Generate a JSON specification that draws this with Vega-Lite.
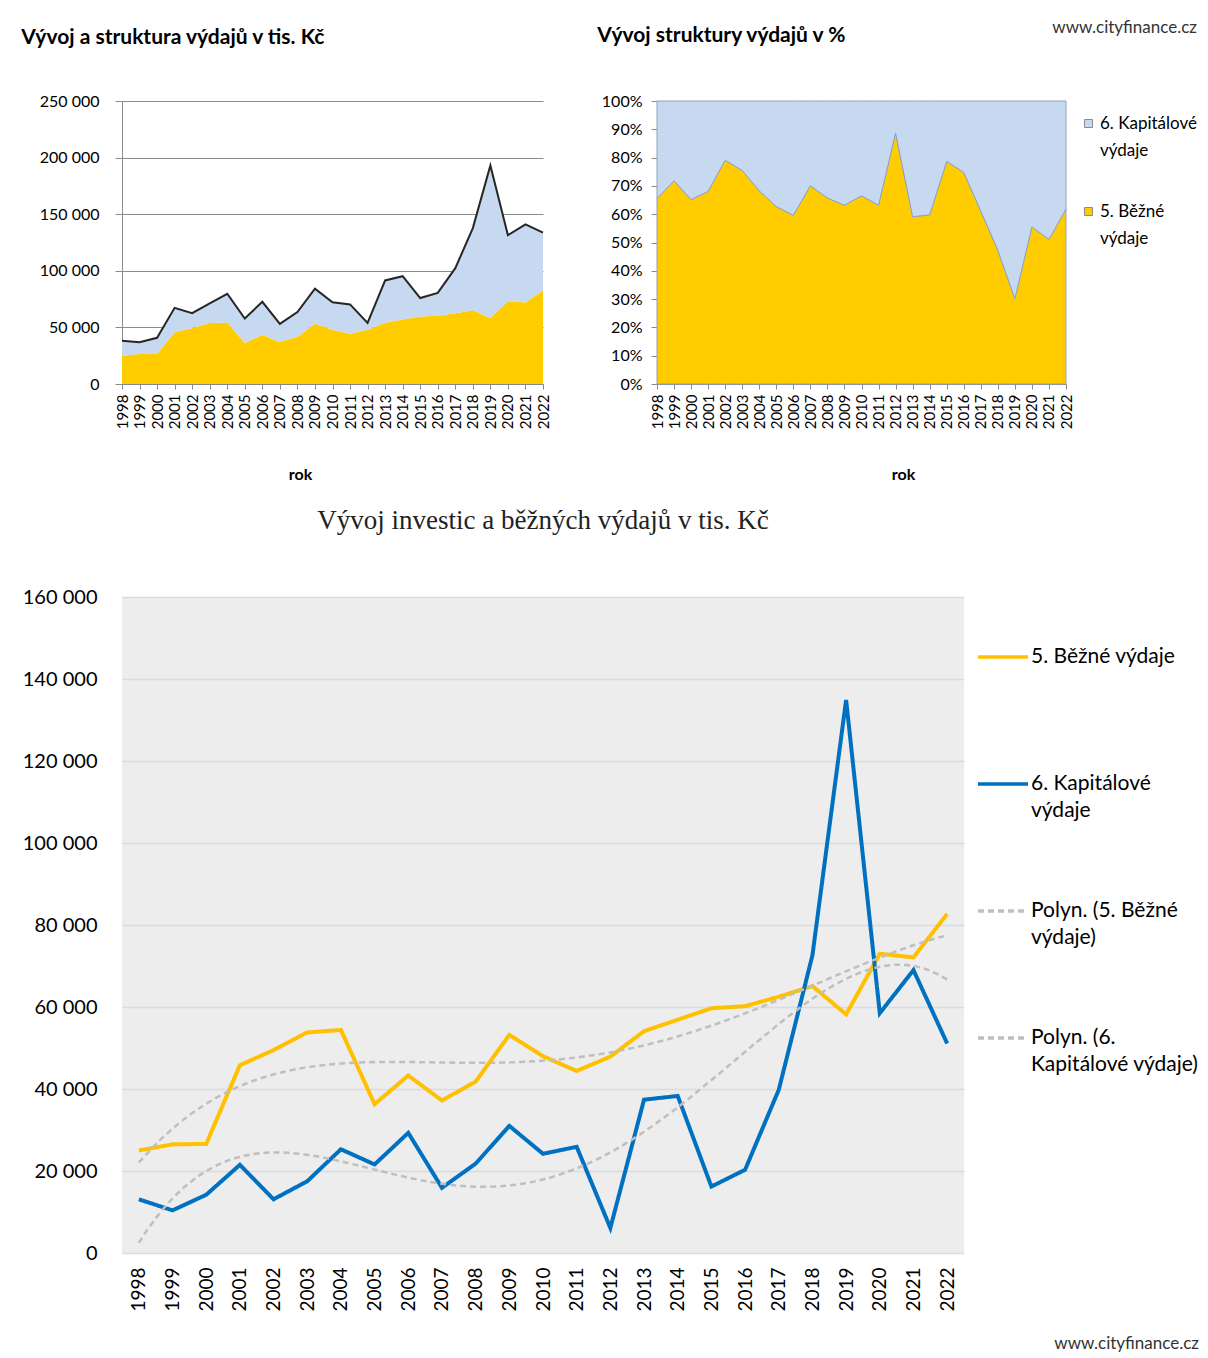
{
  "$schema": "https://vega.github.io/schema/vega-lite/v6.json",
  "padding": {"left": 21, "top": 19, "right": 4, "bottom": 0},
  "background": "white",
  "config": {
    "font": "Lato",
    "view": {"stroke": null},
    "locale": {"number": {"decimal": ",", "thousands": " ", "grouping": [3], "currency": ["", " Kč"]}},
    "axis": {"labelColor": "#000", "titleColor": "#000", "labelFont": "Lato", "titleFont": "Lato"},
    "legend": {"labelColor": "#000", "labelFont": "Lato"},
    "title": {"color": "#000", "font": "Lato"},
    "style": {"guide-label": {"lineHeight": 27}}
  },
  "datasets": {
    "d": [
      {"rok": 1998, "serie": "5. Běžné výdaje", "trend": "Polyn. (5. Běžné výdaje)", "value": 25000},
      {"rok": 1999, "serie": "5. Běžné výdaje", "trend": "Polyn. (5. Běžné výdaje)", "value": 26500},
      {"rok": 2000, "serie": "5. Běžné výdaje", "trend": "Polyn. (5. Běžné výdaje)", "value": 26600},
      {"rok": 2001, "serie": "5. Běžné výdaje", "trend": "Polyn. (5. Běžné výdaje)", "value": 45800},
      {"rok": 2002, "serie": "5. Běžné výdaje", "trend": "Polyn. (5. Běžné výdaje)", "value": 49500},
      {"rok": 2003, "serie": "5. Běžné výdaje", "trend": "Polyn. (5. Běžné výdaje)", "value": 53800},
      {"rok": 2004, "serie": "5. Běžné výdaje", "trend": "Polyn. (5. Běžné výdaje)", "value": 54400},
      {"rok": 2005, "serie": "5. Běžné výdaje", "trend": "Polyn. (5. Běžné výdaje)", "value": 36300},
      {"rok": 2006, "serie": "5. Běžné výdaje", "trend": "Polyn. (5. Běžné výdaje)", "value": 43300},
      {"rok": 2007, "serie": "5. Běžné výdaje", "trend": "Polyn. (5. Běžné výdaje)", "value": 37200},
      {"rok": 2008, "serie": "5. Běžné výdaje", "trend": "Polyn. (5. Běžné výdaje)", "value": 41800},
      {"rok": 2009, "serie": "5. Běžné výdaje", "trend": "Polyn. (5. Běžné výdaje)", "value": 53200},
      {"rok": 2010, "serie": "5. Běžné výdaje", "trend": "Polyn. (5. Běžné výdaje)", "value": 48000},
      {"rok": 2011, "serie": "5. Běžné výdaje", "trend": "Polyn. (5. Běžné výdaje)", "value": 44400},
      {"rok": 2012, "serie": "5. Běžné výdaje", "trend": "Polyn. (5. Běžné výdaje)", "value": 47900},
      {"rok": 2013, "serie": "5. Běžné výdaje", "trend": "Polyn. (5. Běžné výdaje)", "value": 54100},
      {"rok": 2014, "serie": "5. Běžné výdaje", "trend": "Polyn. (5. Běžné výdaje)", "value": 56900},
      {"rok": 2015, "serie": "5. Běžné výdaje", "trend": "Polyn. (5. Běžné výdaje)", "value": 59700},
      {"rok": 2016, "serie": "5. Běžné výdaje", "trend": "Polyn. (5. Běžné výdaje)", "value": 60200},
      {"rok": 2017, "serie": "5. Běžné výdaje", "trend": "Polyn. (5. Běžné výdaje)", "value": 62500},
      {"rok": 2018, "serie": "5. Běžné výdaje", "trend": "Polyn. (5. Běžné výdaje)", "value": 65100},
      {"rok": 2019, "serie": "5. Běžné výdaje", "trend": "Polyn. (5. Běžné výdaje)", "value": 58200},
      {"rok": 2020, "serie": "5. Běžné výdaje", "trend": "Polyn. (5. Běžné výdaje)", "value": 73000},
      {"rok": 2021, "serie": "5. Běžné výdaje", "trend": "Polyn. (5. Běžné výdaje)", "value": 72100},
      {"rok": 2022, "serie": "5. Běžné výdaje", "trend": "Polyn. (5. Běžné výdaje)", "value": 82700},
      {"rok": 1998, "serie": "6. Kapitálové výdaje", "trend": "Polyn. (6. Kapitálové výdaje)", "value": 13100},
      {"rok": 1999, "serie": "6. Kapitálové výdaje", "trend": "Polyn. (6. Kapitálové výdaje)", "value": 10400},
      {"rok": 2000, "serie": "6. Kapitálové výdaje", "trend": "Polyn. (6. Kapitálové výdaje)", "value": 14200},
      {"rok": 2001, "serie": "6. Kapitálové výdaje", "trend": "Polyn. (6. Kapitálové výdaje)", "value": 21500},
      {"rok": 2002, "serie": "6. Kapitálové výdaje", "trend": "Polyn. (6. Kapitálové výdaje)", "value": 13100},
      {"rok": 2003, "serie": "6. Kapitálové výdaje", "trend": "Polyn. (6. Kapitálové výdaje)", "value": 17500},
      {"rok": 2004, "serie": "6. Kapitálové výdaje", "trend": "Polyn. (6. Kapitálové výdaje)", "value": 25300},
      {"rok": 2005, "serie": "6. Kapitálové výdaje", "trend": "Polyn. (6. Kapitálové výdaje)", "value": 21600},
      {"rok": 2006, "serie": "6. Kapitálové výdaje", "trend": "Polyn. (6. Kapitálové výdaje)", "value": 29300},
      {"rok": 2007, "serie": "6. Kapitálové výdaje", "trend": "Polyn. (6. Kapitálové výdaje)", "value": 15900},
      {"rok": 2008, "serie": "6. Kapitálové výdaje", "trend": "Polyn. (6. Kapitálové výdaje)", "value": 21800},
      {"rok": 2009, "serie": "6. Kapitálové výdaje", "trend": "Polyn. (6. Kapitálové výdaje)", "value": 31000},
      {"rok": 2010, "serie": "6. Kapitálové výdaje", "trend": "Polyn. (6. Kapitálové výdaje)", "value": 24200},
      {"rok": 2011, "serie": "6. Kapitálové výdaje", "trend": "Polyn. (6. Kapitálové výdaje)", "value": 25900},
      {"rok": 2012, "serie": "6. Kapitálové výdaje", "trend": "Polyn. (6. Kapitálové výdaje)", "value": 6100},
      {"rok": 2013, "serie": "6. Kapitálové výdaje", "trend": "Polyn. (6. Kapitálové výdaje)", "value": 37400},
      {"rok": 2014, "serie": "6. Kapitálové výdaje", "trend": "Polyn. (6. Kapitálové výdaje)", "value": 38300},
      {"rok": 2015, "serie": "6. Kapitálové výdaje", "trend": "Polyn. (6. Kapitálové výdaje)", "value": 16200},
      {"rok": 2016, "serie": "6. Kapitálové výdaje", "trend": "Polyn. (6. Kapitálové výdaje)", "value": 20300},
      {"rok": 2017, "serie": "6. Kapitálové výdaje", "trend": "Polyn. (6. Kapitálové výdaje)", "value": 39800},
      {"rok": 2018, "serie": "6. Kapitálové výdaje", "trend": "Polyn. (6. Kapitálové výdaje)", "value": 72600},
      {"rok": 2019, "serie": "6. Kapitálové výdaje", "trend": "Polyn. (6. Kapitálové výdaje)", "value": 134900},
      {"rok": 2020, "serie": "6. Kapitálové výdaje", "trend": "Polyn. (6. Kapitálové výdaje)", "value": 58500},
      {"rok": 2021, "serie": "6. Kapitálové výdaje", "trend": "Polyn. (6. Kapitálové výdaje)", "value": 69000},
      {"rok": 2022, "serie": "6. Kapitálové výdaje", "trend": "Polyn. (6. Kapitálové výdaje)", "value": 51100}
    ]
  },
  "title": {"text": "www.cityfinance.cz", "orient": "bottom", "anchor": "end", "fontSize": 17, "fontWeight": "normal", "color": "#333333", "offset": 25},
  "spacing": 24,
  "resolve": {"scale": {"color": "independent", "strokeDash": "independent"}, "legend": {"color": "independent"}},
  "vconcat": [
    {
      "title": {"text": "www.cityfinance.cz", "anchor": "end", "fontSize": 17, "fontWeight": "normal", "color": "#333333", "dy": 16},
      "bounds": "flush",
      "spacing": 114,
      "resolve": {"scale": {"color": "independent"}, "legend": {"color": "independent"}},
      "hconcat": [
        {
          "width": 421,
          "height": 283,
          "data": {"name": "d"},
          "title": {"text": "Vývoj a struktura výdajů v tis. Kč", "anchor": "start", "fontSize": 21, "fontWeight": "bold", "offset": 45, "dx": -18},
          "encoding": {
            "x": {
              "field": "rok", "type": "ordinal",
              "scale": {"type": "point", "padding": 0},
              "axis": {"title": "rok", "titleX": 178, "labelAngle": -90, "labelFontSize": 15, "titleFontSize": 16, "titleFontWeight": "bold", "titlePadding": 38, "domainColor": "#868686", "tickColor": "#868686", "tickSize": 5, "labelPadding": 5}
            }
          },
          "layer": [
            {
              "mark": {"type": "area", "opacity": 1},
              "encoding": {
                "y": {"field": "value", "type": "quantitative", "stack": "zero", "scale": {"domain": [0, 250000], "nice": false},
                  "axis": {"title": null, "values": [0, 50000, 100000, 150000, 200000, 250000], "format": ",d", "labelFontSize": 16, "grid": true, "gridColor": "#8c8c8c", "domainColor": "#8c8c8c", "tickColor": "#8c8c8c", "tickSize": 7, "labelPadding": 16}},
                "color": {"field": "serie", "type": "nominal", "scale": {"domain": ["5. Běžné výdaje", "6. Kapitálové výdaje"], "range": ["#FFCC00", "#C6D9F1"]}, "legend": null},
                "order": {"field": "serie", "sort": "ascending"}
              }
            },
            {
              "mark": {"type": "line", "strokeWidth": 2, "color": "#262626"},
              "encoding": {
                "y": {"field": "value", "type": "quantitative", "stack": "zero"},
                "detail": {"field": "serie"},
                "strokeOpacity": {"condition": {"test": "datum.serie === '5. Běžné výdaje'", "value": 1}, "value": 0}
              }
            }
          ]
        },
        {
          "width": 409,
          "height": 283,
          "data": {"name": "d"},
          "title": {"text": "Vývoj struktury výdajů v %", "anchor": "start", "fontSize": 21, "fontWeight": "bold", "offset": 47, "dx": -4},
          "mark": {"type": "area", "opacity": 1, "stroke": "#8fa3bf", "strokeWidth": 1},
          "encoding": {
            "x": {
              "field": "rok", "type": "ordinal",
              "scale": {"type": "point", "padding": 0},
              "axis": {"title": "rok", "titleX": 246, "labelAngle": -90, "labelFontSize": 15, "titleFontSize": 16, "titleFontWeight": "bold", "titlePadding": 38, "domainColor": "#868686", "tickColor": "#868686", "tickSize": 5, "labelPadding": 5}
            },
            "y": {"field": "value", "type": "quantitative", "stack": "normalize",
              "axis": {"title": null, "values": [0, 0.1, 0.2, 0.3, 0.4, 0.5, 0.6, 0.7, 0.8, 0.9, 1], "format": ".0%", "labelFontSize": 16, "grid": false, "domainColor": "#8c8c8c", "tickColor": "#8c8c8c", "tickSize": 6, "labelPadding": 9}},
            "order": {"field": "serie", "sort": "ascending"},
            "color": {"field": "serie", "type": "nominal", "scale": {"domain": ["6. Kapitálové výdaje", "5. Běžné výdaje"], "range": ["#C6D9F1", "#FFCC00"]},
              "legend": {"title": null, "orient": "none", "legendX": 423, "legendY": 14, "symbolType": "square", "symbolSize": 64, "symbolStrokeColor": "#8c8c8c", "symbolStrokeWidth": 1, "labelFontSize": 17, "labelOffset": 3, "labelLimit": 200, "rowPadding": 43, "gridAlign": "all",
                "labelExpr": "datum.label == '6. Kapitálové výdaje' ? ['6. Kapitálové', 'výdaje'] : ['5. Běžné', 'výdaje']"}}
          }
        }
      ]
    },
    {
      "width": 842,
      "height": 656,
      "data": {"name": "d"},
      "view": {"fill": "#ededed", "stroke": null},
      "title": {"text": "Vývoj investic a běžných výdajů v tis. Kč", "font": "Liberation Serif", "fontSize": 27, "fontWeight": "normal", "anchor": "middle", "offset": 52, "color": "#222222"},
      "encoding": {
        "x": {"field": "rok", "type": "quantitative", "scale": {"domain": [1997.5, 2022.5], "nice": false, "zero": false},
          "axis": {"title": null, "values": [1998, 1999, 2000, 2001, 2002, 2003, 2004, 2005, 2006, 2007, 2008, 2009, 2010, 2011, 2012, 2013, 2014, 2015, 2016, 2017, 2018, 2019, 2020, 2021, 2022], "format": "d", "labelAngle": -90, "labelFontSize": 19, "grid": false, "domain": false, "ticks": false, "labelPadding": 14}},
        "y": {"field": "value", "type": "quantitative", "scale": {"domain": [0, 160000], "nice": false},
          "axis": {"title": null, "values": [0, 20000, 40000, 60000, 80000, 100000, 120000, 140000, 160000], "format": ",d", "labelFontSize": 20, "grid": true, "gridColor": "#dcdcdc", "gridWidth": 1.5, "domain": false, "ticks": false, "labelPadding": 25}}
      },
      "layer": [
        {
          "mark": {"type": "line", "strokeWidth": 4},
          "encoding": {
            "color": {"field": "serie", "type": "nominal",
              "scale": {"domain": ["5. Běžné výdaje", "6. Kapitálové výdaje", "Polyn. (5. Běžné výdaje)", "Polyn. (6. Kapitálové výdaje)"], "range": ["#FFC000", "#0070C0", "#BFBFBF", "#BFBFBF"]},
              "legend": {"title": null, "orient": "none", "legendX": 854, "legendY": 33, "symbolType": "stroke", "symbolSize": 2500, "symbolStrokeWidth": 3.5, "labelFontSize": 21, "labelOffset": 1, "labelLimit": 300, "rowPadding": 63, "gridAlign": "all",
                "labelExpr": "datum.label == '6. Kapitálové výdaje' ? ['6. Kapitálové', 'výdaje'] : datum.label == 'Polyn. (5. Běžné výdaje)' ? ['Polyn. (5. Běžné', 'výdaje)'] : datum.label == 'Polyn. (6. Kapitálové výdaje)' ? ['Polyn. (6.', 'Kapitálové výdaje)'] : datum.label"}},
            "strokeDash": {"field": "serie", "type": "nominal",
              "scale": {"domain": ["5. Běžné výdaje", "6. Kapitálové výdaje", "Polyn. (5. Běžné výdaje)", "Polyn. (6. Kapitálové výdaje)"], "range": [[1, 0], [1, 0], [6, 4], [6, 4]]},
              "legend": {"title": null, "orient": "none", "legendX": 854, "legendY": 33, "symbolType": "stroke", "symbolSize": 2500, "symbolStrokeWidth": 3.5, "labelFontSize": 21, "labelOffset": 1, "labelLimit": 300, "rowPadding": 63, "gridAlign": "all",
                "labelExpr": "datum.label == '6. Kapitálové výdaje' ? ['6. Kapitálové', 'výdaje'] : datum.label == 'Polyn. (5. Běžné výdaje)' ? ['Polyn. (5. Běžné', 'výdaje)'] : datum.label == 'Polyn. (6. Kapitálové výdaje)' ? ['Polyn. (6.', 'Kapitálové výdaje)'] : datum.label"}}
          }
        },
        {
          "transform": [{"regression": "value", "on": "rok", "groupby": ["trend"], "method": "poly", "order": 4}],
          "mark": {"type": "line", "strokeWidth": 2.5},
          "encoding": {
            "color": {"field": "trend", "type": "nominal",
              "scale": {"domain": ["5. Běžné výdaje", "6. Kapitálové výdaje", "Polyn. (5. Běžné výdaje)", "Polyn. (6. Kapitálové výdaje)"], "range": ["#FFC000", "#0070C0", "#BFBFBF", "#BFBFBF"]}},
            "strokeDash": {"field": "trend", "type": "nominal",
              "scale": {"domain": ["5. Běžné výdaje", "6. Kapitálové výdaje", "Polyn. (5. Běžné výdaje)", "Polyn. (6. Kapitálové výdaje)"], "range": [[1, 0], [1, 0], [6, 4], [6, 4]]}}
          }
        }
      ]
    }
  ]
}
